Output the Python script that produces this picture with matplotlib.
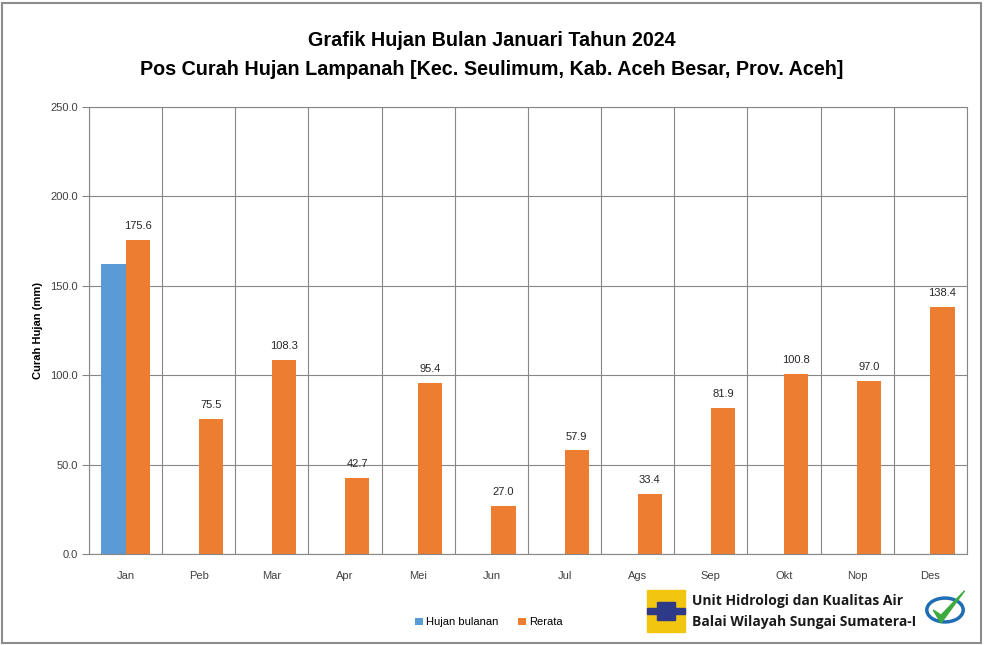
import matplotlib.pyplot as plt
import numpy as np
from matplotlib.patches import Rectangle, Circle, Polygon

# data
bulan = ["Jan", "Peb", "Mar", "Apr", "Mei", "Jun", "Jul", "Ags", "Sep", "Okt", "Nop", "Des"]
hujan_bulanan = [162.2, 0, 0, 0, 0, 0, 0, 0, 0, 0, 0, 0]
rerata = [175.6, 75.5, 108.3, 42.7, 95.4, 27.0, 57.9, 33.4, 81.9, 100.8, 97.0, 138.4]

biru = "#5B9BD5"
oranye = "#ED7D31"
abu = "#878787"

plt.rcParams['font.family'] = ['Liberation Sans', 'DejaVu Sans']

fig = plt.figure(figsize=(9.84, 6.45), dpi=100)
ax = fig.add_axes([0.0904, 0.1411, 0.8923, 0.6930])

x = np.arange(len(bulan))
w = 0.33
ax.bar(x - w/2, hujan_bulanan, w, color=biru, label="Hujan bulanan")
ax.bar(x + w/2, rerata, w, color=oranye, label="Rerata")

for xi, v in zip(x, rerata):
    ax.text(xi + w/2, v + 5, f"{v:.1f}", ha="center", va="bottom", fontsize=8, color="#262626")

ax.set_xlim(-0.5, len(bulan) - 0.5)
ax.set_ylim(0, 250)
ax.set_yticks(np.arange(0, 251, 50))
ax.set_yticklabels([f"{t:.1f}" for t in np.arange(0, 251, 50)])
ax.set_xticks(x)
ax.set_xticklabels(bulan)
ax.set_xticks(np.arange(-0.5, len(bulan)), minor=True)
ax.tick_params(axis="x", which="both", length=0, pad=12, labelsize=8, labelcolor="#404040")
ax.tick_params(axis="y", length=5, color=abu, labelsize=8, labelcolor="#404040", pad=3)
ax.yaxis.grid(True, color=abu, linewidth=0.8)
ax.xaxis.grid(True, which="minor", color=abu, linewidth=0.8)
ax.set_axisbelow(True)
for s in ax.spines.values():
    s.set_color(abu)
    s.set_linewidth(0.8)
ax.set_ylabel("Curah Hujan (mm)", fontsize=8, fontweight="bold", labelpad=5)

fig.text(0.5, 0.937, "Grafik Hujan Bulan Januari Tahun 2024", ha="center", va="center",
         fontsize=14.2, fontweight="bold")
fig.text(0.5, 0.893, "Pos Curah Hujan Lampanah [Kec. Seulimum, Kab. Aceh Besar, Prov. Aceh]",
         ha="center", va="center", fontsize=14.2, fontweight="bold")

fig.legend(loc="center", bbox_to_anchor=(0.497, 0.035), ncol=2, frameon=False, fontsize=8,
           handlelength=0.7, handleheight=0.7, handletextpad=0.3, columnspacing=1.8)

# logo (simplified)
lx, ly = 647 / 984, 1 - 632 / 645
fig.patches.append(Rectangle((lx, ly), 38 / 984, 42 / 645, transform=fig.transFigure,
                             color="#F2C511", zorder=1))
fig.patches.append(Rectangle((lx + 10 / 984, ly + 12 / 645), 18 / 984, 18 / 645,
                             transform=fig.transFigure, color="#2E3A87", zorder=2))
fig.patches.append(Rectangle((lx, ly + 18 / 645), 38 / 984, 6 / 645,
                             transform=fig.transFigure, color="#2E3A87", zorder=2))
fig.text(692 / 984, 1 - 601 / 645, "Unit Hidrologi dan Kualitas Air", fontsize=10,
         fontweight="bold", va="center", family=["Open Sans", "DejaVu Sans"], color="#1a1a1a")
fig.text(692 / 984, 1 - 622 / 645, "Balai Wilayah Sungai Sumatera-I", fontsize=10,
         fontweight="bold", va="center", family=["Open Sans", "DejaVu Sans"], color="#1a1a1a")
cx, cy = 945 / 984, 1 - 610 / 645
fig.patches.append(Circle((cx, cy), 0.0185, transform=fig.transFigure, facecolor="white",
                          edgecolor="#1F6DB5", linewidth=2.5, zorder=3))
fig.patches.append(Polygon([(cx - 0.012, cy), (cx - 0.004, cy - 0.02), (cx + 0.02, cy + 0.03),
                            (cx - 0.004, cy - 0.008)], closed=True, transform=fig.transFigure,
                           color="#3DAA3D", zorder=4))

# outer border
fig.patches.append(Rectangle((0.002, 0.003), 0.995, 0.993, transform=fig.transFigure,
                             fill=False, edgecolor="#8c8c8c", linewidth=1.5))

fig.savefig("out.png", dpi=100)
